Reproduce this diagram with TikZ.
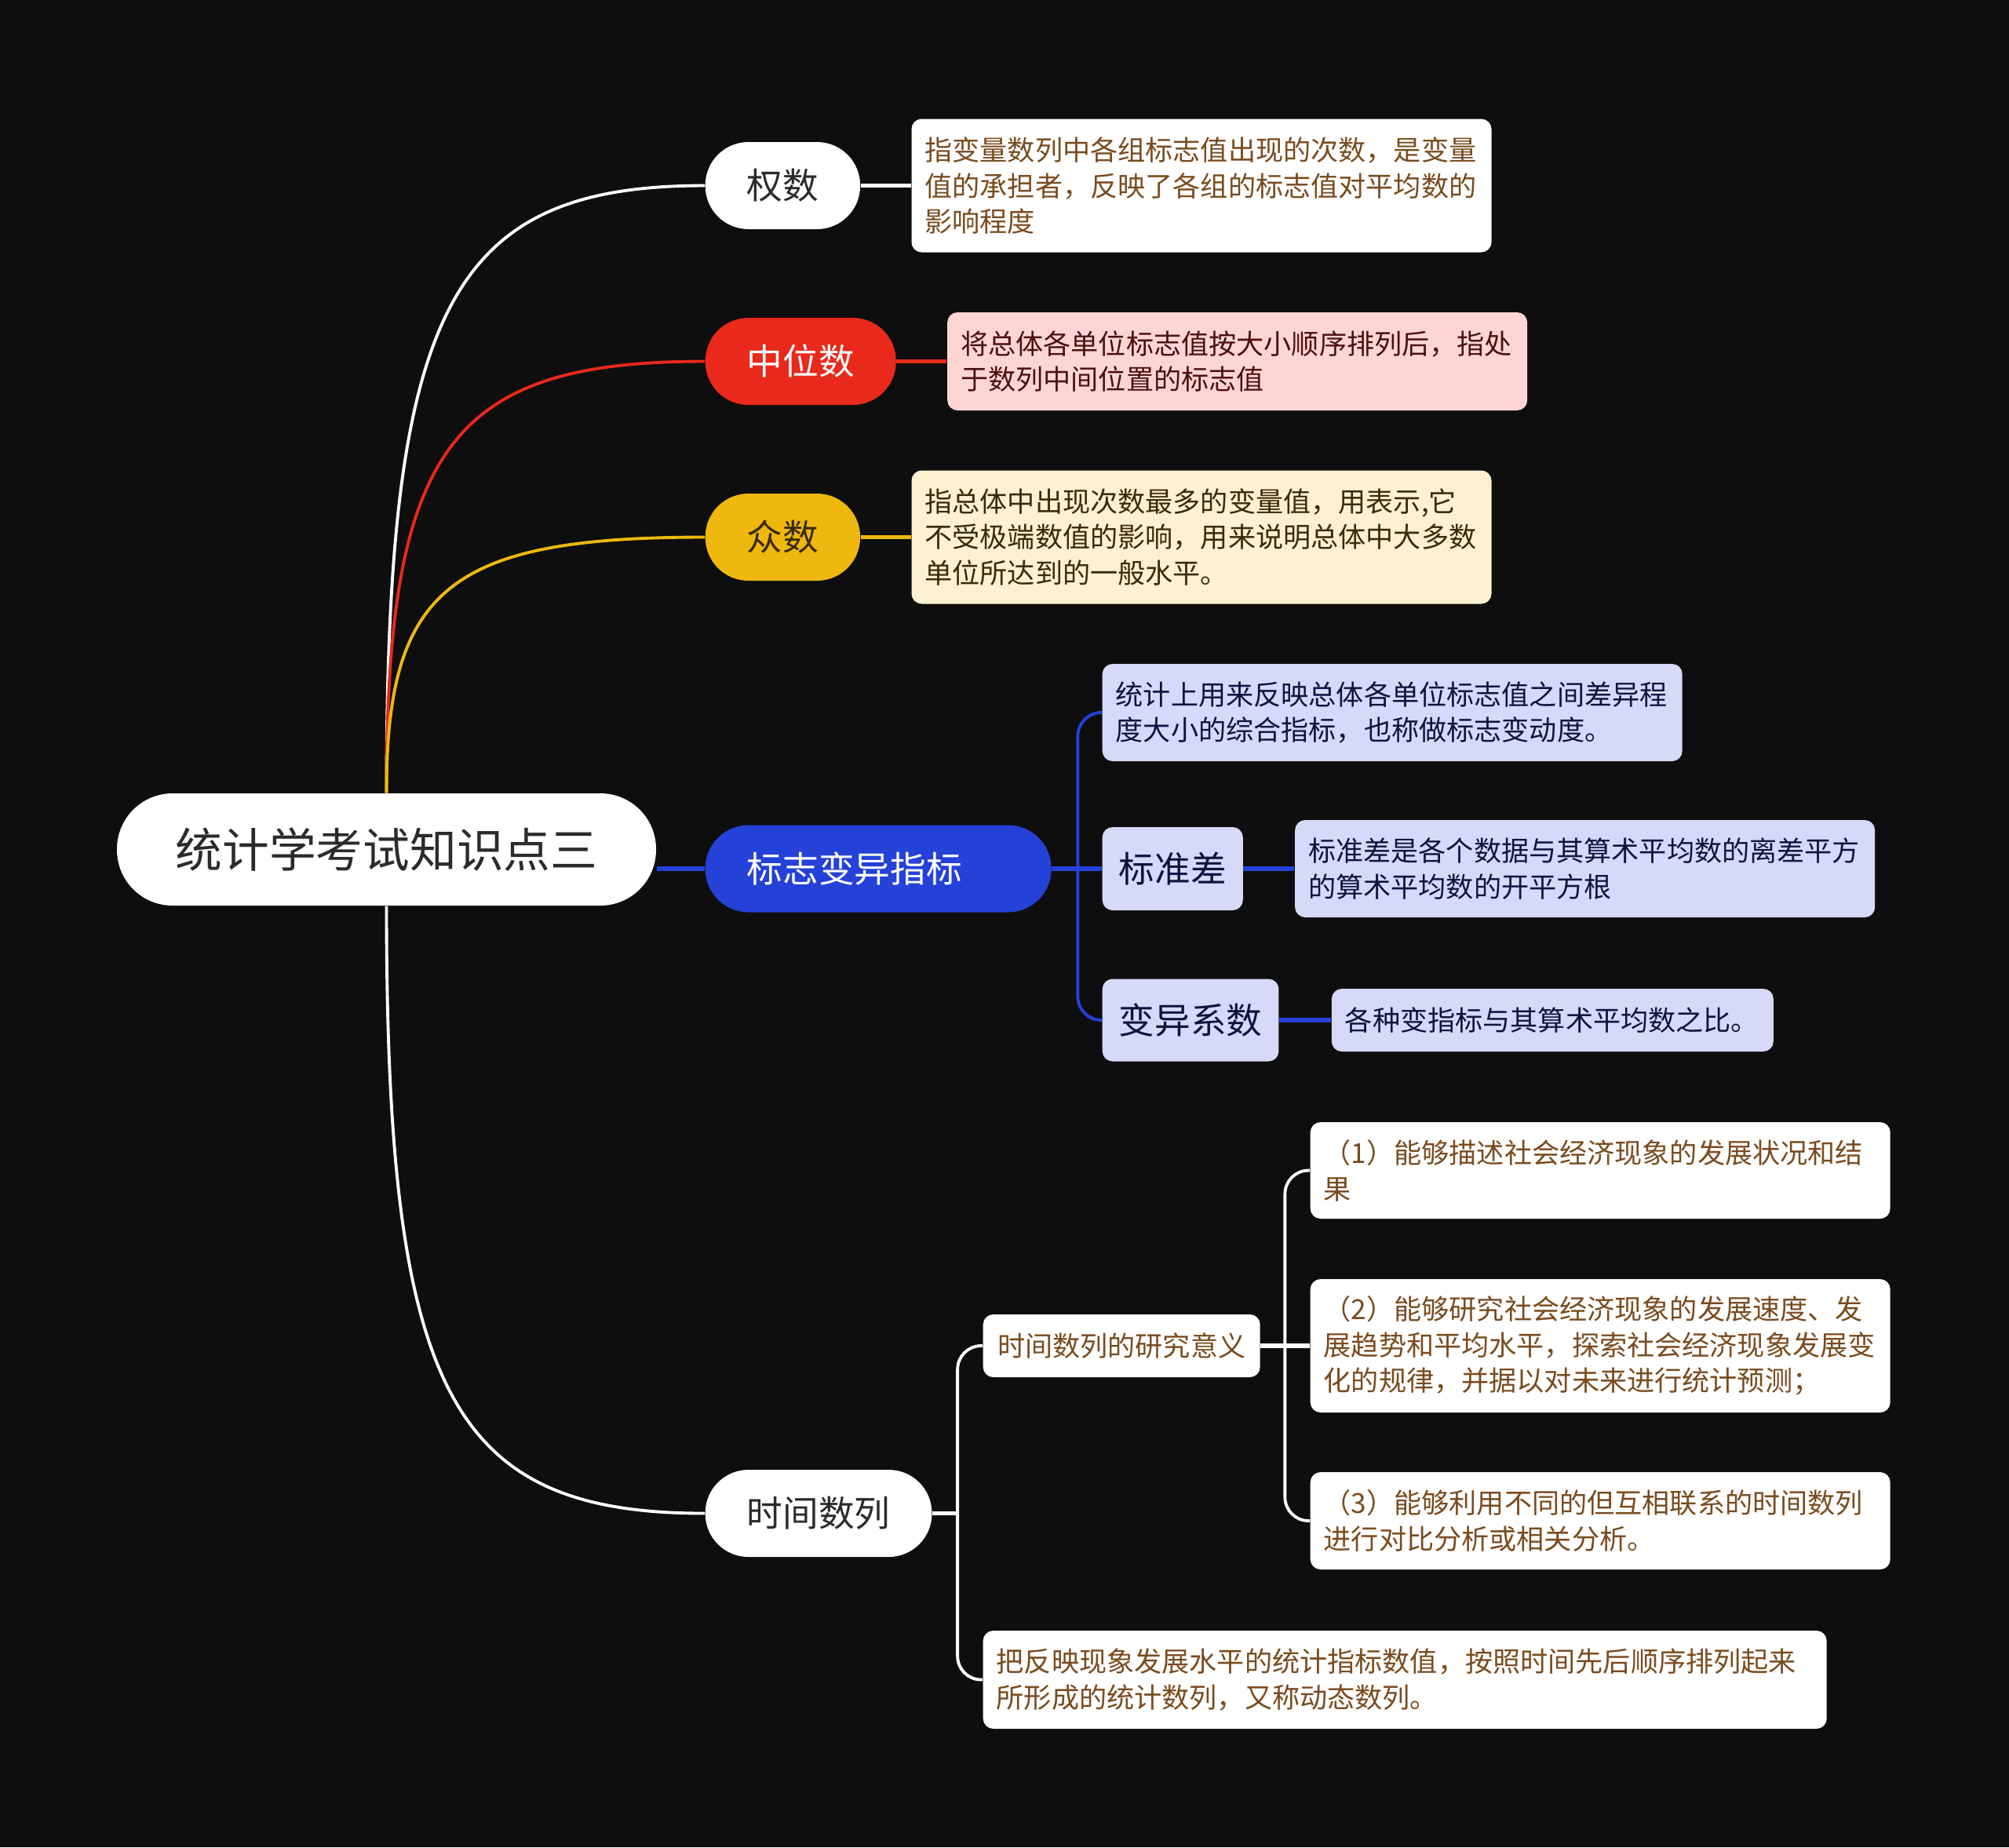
\documentclass[tikz,border=0pt]{standalone}
\usepackage{fontspec}
\newfontfamily\cjk{Noto Sans CJK SC}
\usetikzlibrary{calc,positioning,backgrounds}
\definecolor{bgblack}{HTML}{0E0E0E}
\definecolor{notebrown}{HTML}{7A4B1E}
\definecolor{darkgrey}{HTML}{2B2B2B}
\definecolor{medred}{HTML}{E8291B}
\definecolor{medpink}{HTML}{FDD6D4}
\definecolor{medtext}{HTML}{4D0F0F}
\definecolor{modeyellow}{HTML}{EEB80E}
\definecolor{modecream}{HTML}{FDF1D2}
\definecolor{modetext}{HTML}{3B2A05}
\definecolor{varblue}{HTML}{2441D8}
\definecolor{varlav}{HTML}{D6D9F8}
\definecolor{vartext}{HTML}{10123F}

\begin{document}
\begin{tikzpicture}[
  every node/.style={font=\cjk},
  topic/.style={fill=white,text=darkgrey,rounded corners=7.1mm,
                minimum width=6.87cm,minimum height=1.43cm,
                font=\cjk\fontsize{17}{20}\selectfont},
  branch/.style={rounded corners=5.5mm,minimum height=1.11cm,inner xsep=0.53cm,
                font=\cjk\fontsize{13}{16}\selectfont},
  subbox/.style={rounded corners=1.3mm,minimum height=1.06cm,inner xsep=0.21cm,
                fill=varlav,text=vartext,font=\cjk\fontsize{13}{16}\selectfont},
  note/.style={rounded corners=1.3mm,align=left,inner xsep=0.17cm,text width=#1,
                font=\cjk\fontsize{10}{13}\selectfont},
  note/.default=7.05cm,
  link/.style={line width=1.1pt},
  shortlink/.style={line width=1.5pt},
  tobranch/.style={to path={.. controls ($(\tikztostart)!0.8!(\tikztostart |- \tikztotarget)$)
                and ($(\tikztostart |- \tikztotarget)!0.2!(\tikztotarget)$) .. (\tikztotarget)}}
]
\useasboundingbox (0,0) rectangle (25.6,-23.54);

% Central topic
\node[topic] (root) at (4.925,-10.825) {统计学考试知识点三};

% --- Main branches ---
\node[branch,fill=white,text=darkgrey,anchor=west] (weight) at (8.98,-2.365) {权数};
\node[branch,fill=medred,text=white,anchor=west] (median) at (8.98,-4.605) {中位数};
\node[branch,fill=modeyellow,text=modetext,anchor=west] (mode) at (8.98,-6.845) {众数};
\node[branch,fill=varblue,text=white,text width=3.35cm,align=left,anchor=west]
  (variation) at (8.98,-11.07) {标志变异指标};
\node[branch,fill=white,text=darkgrey,anchor=west] (series) at (8.98,-19.285) {时间数列};

% --- Notes of the first three branches ---
\node[note,fill=white,text=notebrown,minimum height=1.70cm,right=0.64cm of weight] (weightnote)
  {指变量数列中各组标志值出现的次数，是变量\\值的承担者，反映了各组的标志值对平均数的\\影响程度};
\node[note,fill=medpink,text=medtext,minimum height=1.25cm,right=0.64cm of median] (mediannote)
  {将总体各单位标志值按大小顺序排列后，指处\\于数列中间位置的标志值};
\node[note,fill=modecream,text=modetext,minimum height=1.70cm,right=0.64cm of mode] (modenote)
  {指总体中出现次数最多的变量值，用表示,它\\不受极端数值的影响，用来说明总体中大多数\\单位所达到的一般水平。};

% --- Variation indicator ---
\node[note,fill=varlav,text=vartext,minimum height=1.24cm,anchor=west] (vardef) at (14.04,-9.08)
  {统计上用来反映总体各单位标志值之间差异程\\度大小的综合指标，也称做标志变动度。};
\node[subbox,anchor=west] (stdev) at (14.04,-11.07) {标准差};
\node[note,fill=varlav,text=vartext,minimum height=1.24cm,right=0.65cm of stdev] (stdevnote)
  {标准差是各个数据与其算术平均数的离差平方\\的算术平均数的开平方根};
\node[subbox,minimum height=1.05cm,anchor=west] (cv) at (14.04,-13.0) {变异系数};
\node[note=5.29cm,fill=varlav,text=vartext,minimum height=0.80cm,right=0.66cm of cv] (cvnote)
  {各种变指标与其算术平均数之比。};

% --- Time series ---
\node[note=3.19cm,fill=white,text=notebrown,align=center,minimum height=0.80cm,anchor=west]
  (meaning) at (12.52,-17.15) {时间数列的研究意义};
\node[note,fill=white,text=notebrown,minimum height=1.23cm,anchor=west] (meaning1) at (16.69,-14.915)
  {（1）能够描述社会经济现象的发展状况和结\\果};
\node[note,fill=white,text=notebrown,minimum height=1.70cm,anchor=west] (meaning2) at (16.69,-17.15)
  {（2）能够研究社会经济现象的发展速度、发\\展趋势和平均水平，探索社会经济现象发展变\\化的规律，并据以对未来进行统计预测；};
\node[note,fill=white,text=notebrown,minimum height=1.24cm,anchor=west] (meaning3) at (16.69,-19.38)
  {（3）能够利用不同的但互相联系的时间数列\\进行对比分析或相关分析。};
\node[note=10.41cm,fill=white,text=notebrown,minimum height=1.25cm,anchor=west] (seriesdef) at (12.52,-21.405)
  {把反映现象发展水平的统计指标数值，按照时间先后顺序排列起来\\所形成的统计数列，又称动态数列。};

\begin{scope}[on background layer]
\fill[bgblack] (0,0) rectangle (25.6,-23.54);

% root to branches
\draw[link,white] (root.north) to[tobranch] (weight.west);
\draw[link,medred] (root.north) to[tobranch] (median.west);
\draw[link,modeyellow] (root.north) to[tobranch] (mode.west);
\draw[shortlink,varblue] (root.east |- variation.west) -- (variation.west);
\draw[link,white] (root.south) to[tobranch] (series.west);

% branches to notes
\draw[shortlink,white] (weight) -- (weightnote);
\draw[shortlink,medred] (median) -- (mediannote);
\draw[shortlink,modeyellow] (mode) -- (modenote);

% variation bracket
\coordinate (varjoint) at ($(variation.east)+(0.33,0)$);
\draw[shortlink,varblue] (variation.east) -- (varjoint);
\draw[link,varblue,rounded corners=3mm] (varjoint) |- (vardef.west);
\draw[link,varblue,rounded corners=3mm] (varjoint) |- (cv.west);
\draw[shortlink,varblue] (varjoint) -- (stdev.west);
\draw[shortlink,varblue] (stdev) -- (stdevnote);
\draw[shortlink,varblue] (cv) -- (cvnote);

% time series brackets
\coordinate (seriesjoint) at ($(series.east)+(0.32,0)$);
\draw[shortlink,white] (series.east) -- (seriesjoint);
\draw[link,white,rounded corners=3mm] (seriesjoint) |- (meaning.west);
\draw[link,white,rounded corners=3mm] (seriesjoint) |- (seriesdef.west);
\coordinate (meaningjoint) at ($(meaning.east)+(0.31,0)$);
\draw[shortlink,white] (meaning.east) -- (meaningjoint);
\draw[link,white,rounded corners=3mm] (meaningjoint) |- (meaning1.west);
\draw[shortlink,white] (meaningjoint) -- (meaning2.west);
\draw[link,white,rounded corners=3mm] (meaningjoint) |- (meaning3.west);
\end{scope}
\end{tikzpicture}
\end{document}
